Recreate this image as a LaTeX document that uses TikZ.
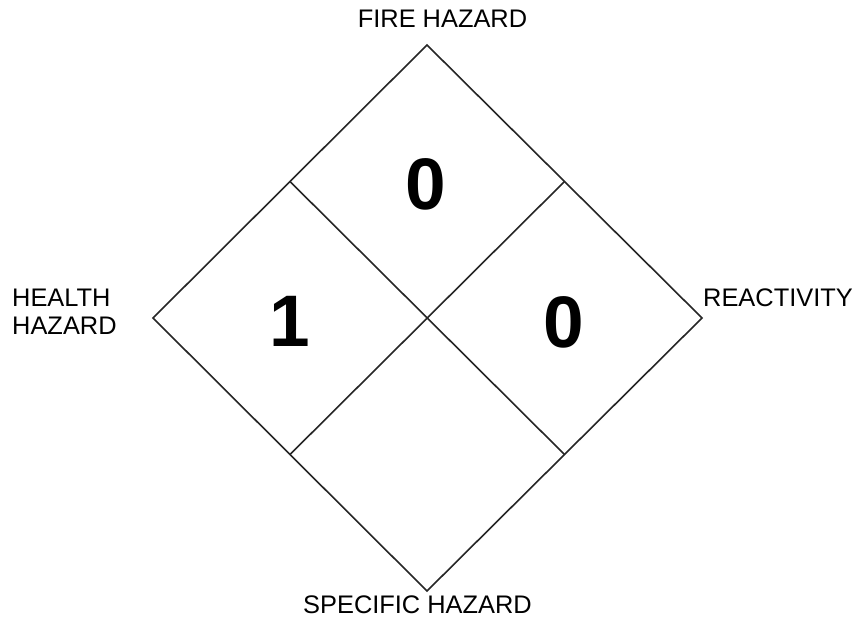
\documentclass[tikz,border=0pt]{standalone}
\usepackage{fontspec}
\setmainfont{Liberation Sans}
\usetikzlibrary{calc}
\begin{document}
\begin{tikzpicture}[x=1pt,y=-1pt,
  edge/.style={draw=black!85, line width=1.6pt, line join=miter},
  label/.style={font=\fontsize{25.4}{28}\selectfont, inner sep=0pt},
  digit/.style={font=\fontsize{73}{80}\selectfont\bfseries, inner sep=0pt, anchor=base}]
\useasboundingbox[fill=white] (0,0) rectangle (857,618);
% corners of the diamond
\coordinate (T) at (427,45);
\coordinate (L) at (153,318);
\coordinate (R) at (702,318);
\coordinate (B) at (427,591);
\coordinate (C) at (427,318);
\coordinate (TL) at ($(T)!0.5!(L)$);
\coordinate (TR) at ($(T)!0.5!(R)$);
\coordinate (BL) at ($(B)!0.5!(L)$);
\coordinate (BR) at ($(B)!0.5!(R)$);
\draw[edge] (T) -- (R) -- (B) -- (L) -- cycle;
\draw[edge] (TL) -- (BR);
\draw[edge] (TR) -- (BL);
% numbers
\node[digit] (fire) at (425.5,209) {0};
\node[digit] (health) at (290,346) {1};
\node[digit] (react) at (563.3,347) {0};
% labels
\node[label, anchor=base] (firelbl) at (442.5,28) {FIRE HAZARD};
\node[label, anchor=north west, align=left] (healthlbl) at (12,288.5) {HEALTH\\HAZARD};
\node[label, anchor=base west] (reactlbl) at (703,306) {REACTIVITY};
\node[label, anchor=base] (speclbl) at (417.5,613) {SPECIFIC HAZARD};
\end{tikzpicture}
\end{document}
